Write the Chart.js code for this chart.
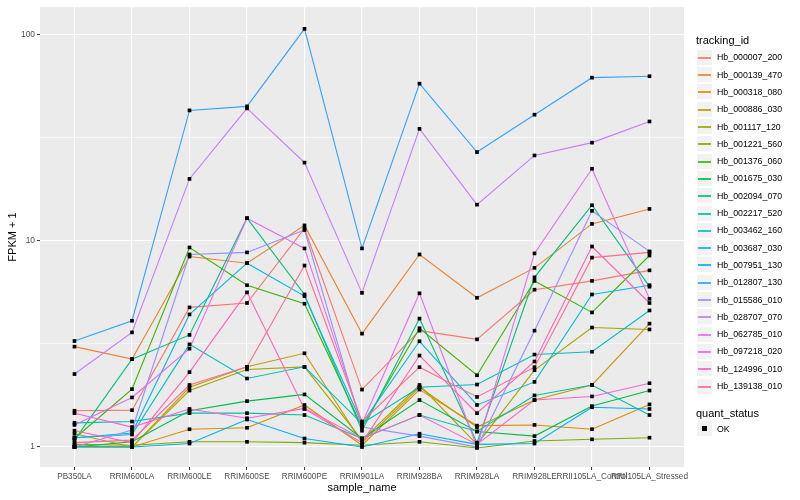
<!DOCTYPE html>
<html>
<head>
<meta charset="utf-8">
<script src="https://cdn.jsdelivr.net/npm/chart.js@4.4.0/dist/chart.umd.min.js"></script>
<style>
  body { margin: 0; background: #fff; font-family: "Liberation Sans", Arial, sans-serif; }
  #wrap { position: relative; width: 800px; height: 500px; }
  #grafico { position: absolute; left: 0; top: 0; }
  .ltitle { position: absolute; left: 696px; font-size: 11px; color: #000; line-height: 1; transform: translateY(-50%); white-space: nowrap; }
  .key { position: absolute; left: 696px; width: 17px; height: 17px; background: #F2F2F2; box-sizing: border-box; border: 1px solid #fff; }
  .key .ln { position: absolute; left: 1px; right: 1px; top: 7px; height: 2px; opacity: 0.85; }
  .key .pt { position: absolute; left: 5px; top: 5px; width: 5px; height: 5px; background: #000; }
  .lab { position: absolute; left: 717px; font-size: 8.8px; color: #000; line-height: 1; transform: translateY(-50%); white-space: nowrap; }
</style>
</head>
<body>
<div id="wrap">
  <canvas id="grafico" width="800" height="500"></canvas>
  <div id="legenda"></div>
</div>
<script>
const categories = ['PB350LA', 'RRIM600LA', 'RRIM600LE', 'RRIM600SE', 'RRIM600PE', 'RRIM901LA',
  'RRIM928BA', 'RRIM928LA', 'RRIM928LE', 'RRII105LA_Control', 'RRII105LA_Stressed'];

const trackingIds = ['Hb_000007_200', 'Hb_000139_470', 'Hb_000318_080', 'Hb_000886_030', 'Hb_001117_120',
  'Hb_001221_560', 'Hb_001376_060', 'Hb_001675_030', 'Hb_002094_070', 'Hb_002217_520',
  'Hb_003462_160', 'Hb_003687_030', 'Hb_007951_130', 'Hb_012807_130', 'Hb_015586_010',
  'Hb_028707_070', 'Hb_062785_010', 'Hb_097218_020', 'Hb_124996_010', 'Hb_139138_010'];

// FPKM + 1, one array per tracking_id, in category order
const hb_000007_200 = [1.50, 1.51, 4.76, 5.0, 11.5, 1.9, 3.67, 3.33, 5.8, 6.4, 7.2];
const hb_000139_470 = [3.07, 2.67, 8.4, 7.8, 11.9, 3.55, 8.6, 5.3, 7.4, 12.1, 14.3];
const hb_000318_080 = [1.16, 1.0, 1.22, 1.24, 1.6, 1.02, 1.9, 1.27, 1.28, 1.22, 1.61];
const hb_000886_030 = [1.0, 1.0, 1.95, 2.45, 2.85, 1.05, 1.95, 1.25, 1.69, 2.0, 3.97];
const hb_001117_120 = [1.01, 1.0, 1.88, 2.38, 2.45, 1.08, 2.0, 1.03, 2.36, 3.8, 3.72];
const hb_001221_560 = [1.03, 1.02, 1.06, 1.06, 1.05, 1.02, 1.06, 0.99, 1.07, 1.09, 1.11];
const hb_001376_060 = [1.1, 1.91, 9.3, 6.1, 4.96, 1.25, 3.77, 2.23, 6.4, 4.5, 8.5];
const hb_001675_030 = [1.0, 1.06, 1.5, 1.67, 1.8, 1.1, 1.69, 1.19, 1.13, 1.58, 1.88];
const hb_002094_070 = [1.08, 2.67, 3.5, 12.9, 5.5, 1.2, 4.2, 1.05, 6.66, 14.9, 6.0];
const hb_002217_520 = [1.31, 1.33, 1.46, 1.46, 1.43, 1.1, 1.43, 1.19, 1.78, 2.0, 1.43];
const hb_003462_160 = [1.11, 1.15, 3.15, 2.15, 2.45, 1.3, 1.95, 2.01, 2.81, 2.9, 4.6];
const hb_003687_030 = [1.11, 1.17, 4.4, 7.8, 5.4, 1.3, 3.26, 1.6, 2.07, 5.5, 6.1];
const hb_007951_130 = [1.0, 1.0, 1.04, 1.36, 1.1, 1.0, 1.16, 1.03, 1.04, 1.56, 1.53];
const hb_012807_130 = [3.27, 4.1, 43, 45, 107, 9.2, 58, 27, 41, 62, 63];
const hb_015586_010 = [1.0, 1.21, 8.6, 8.8, 11.3, 1.25, 1.13, 1.0, 3.67, 14.0, 8.9];
const hb_028707_070 = [2.26, 3.6, 20, 44, 24, 5.6, 35, 15, 26, 30, 38];
const hb_062785_010 = [1.28, 1.74, 3.0, 12.9, 9.2, 1.3, 5.57, 1.0, 8.7, 22.4, 5.24];
const hb_097218_020 = [1.46, 1.25, 1.53, 1.38, 1.54, 1.1, 1.43, 1.03, 1.69, 1.76, 2.04];
const hb_124996_010 = [1.2, 1.05, 2.31, 5.63, 1.53, 1.05, 2.78, 1.46, 2.6, 9.4, 5.0];
const hb_139138_010 = [1.05, 1.08, 2.0, 2.45, 7.6, 1.33, 2.44, 1.75, 2.44, 8.3, 8.8];

const seriesValues = [hb_000007_200, hb_000139_470, hb_000318_080, hb_000886_030, hb_001117_120,
  hb_001221_560, hb_001376_060, hb_001675_030, hb_002094_070, hb_002217_520,
  hb_003462_160, hb_003687_030, hb_007951_130, hb_012807_130, hb_015586_010,
  hb_028707_070, hb_062785_010, hb_097218_020, hb_124996_010, hb_139138_010];

const yMajor = [1, 10, 100];
const yMajorLabels = ['1', '10', '100'];
const yMinor = [3.1623, 31.623];

const quantStatus = ['OK'];

// ggplot hue palette, 20 levels
const CORES = ['#F8766D', '#EA8331', '#D89000', '#C09B00', '#A3A500', '#7CAE00', '#39B600', '#00BB4E',
  '#00BF7D', '#00C1A3', '#00BFC4', '#00BAE0', '#00B0F6', '#35A2FF', '#9590FF', '#C77CFF',
  '#E76BF3', '#FA62DB', '#FF62BC', '#FF6C91'];

const FONTE = '"Liberation Sans", Arial, sans-serif';
const isMajor = v => yMajor.some(m => Math.abs(m - v) < 1e-6);

const linhas = seriesValues.map((vals, i) => ({
  label: trackingIds[i],
  data: vals.map((v, j) => ({ x: j, y: v })),
  borderColor: CORES[i],
  borderWidth: 1.1,
  pointRadius: 0,
  fill: false,
  tension: 0,
  order: seriesValues.length - i + 1
}));

const pontos = seriesValues.map((vals, i) => ({
  label: trackingIds[i] + ' ' + quantStatus[0],
  data: vals.map((v, j) => ({ x: j, y: v })),
  showLine: false,
  pointStyle: 'rect',
  pointRadius: 2.6,
  pointBackgroundColor: '#000',
  pointBorderWidth: 0,
  order: 0
}));

const fundoPainel = {
  id: 'fundoPainel',
  beforeDraw(chart) {
    const { ctx, chartArea: a } = chart;
    ctx.save();
    ctx.fillStyle = '#EBEBEB';
    ctx.fillRect(a.left, a.top, a.right - a.left, a.bottom - a.top);
    ctx.restore();
  }
};

new Chart(document.getElementById('grafico'), {
  type: 'line',
  data: { datasets: [...linhas, ...pontos] },
  plugins: [fundoPainel],
  options: {
    responsive: false,
    animation: false,
    devicePixelRatio: 1,
    layout: { padding: { top: 5, right: 116, left: 0, bottom: 0 } },
    plugins: { legend: { display: false }, tooltip: { enabled: false } },
    scales: {
      x: {
        type: 'linear',
        min: -0.6,
        max: categories.length - 0.4,
        afterBuildTicks: s => { s.ticks = categories.map((_, i) => ({ value: i })); },
        afterFit: s => { s.height = 33; },
        ticks: {
          callback: v => categories[v],
          autoSkip: false, maxRotation: 0, minRotation: 0,
          color: '#4D4D4D', padding: 2,
          font: { family: FONTE, size: 8.2 }
        },
        grid: { color: '#FFFFFF', lineWidth: 1.1, tickColor: '#333333', tickLength: 3, tickWidth: 1 },
        border: { display: false },
        title: {
          display: true, text: 'sample_name', color: '#000',
          font: { family: FONTE, size: 11 }, padding: { top: 0, bottom: 5.4 }
        }
      },
      y: {
        type: 'logarithmic',
        min: 0.8,
        max: 136.5,
        afterBuildTicks: s => {
          s.ticks = [...yMajor, ...yMinor].sort((a, b) => a - b).map(v => ({ value: v }));
        },
        afterFit: s => { s.width = 40; },
        ticks: {
          callback: v => { const k = yMajor.findIndex(m => Math.abs(m - v) < 1e-6); return k >= 0 ? yMajorLabels[k] : ''; },
          autoSkip: false, color: '#4D4D4D', padding: 2,
          font: { family: FONTE, size: 8.4 }
        },
        grid: {
          color: '#FFFFFF',
          lineWidth: c => (c.tick && isMajor(c.tick.value)) ? 1.1 : 0.55,
          tickColor: c => (c.tick && isMajor(c.tick.value)) ? '#333333' : 'rgba(0,0,0,0)',
          tickLength: 3, tickWidth: 1
        },
        border: { display: false },
        title: {
          display: true, text: 'FPKM + 1', color: '#000',
          font: { family: FONTE, size: 11 }, padding: { top: 6.4, bottom: 0 }
        }
      }
    }
  }
});

// legenda estilo ggplot
const legenda = document.getElementById('legenda');
function addTitulo(texto, y) {
  const t = document.createElement('div');
  t.className = 'ltitle';
  t.style.top = y + 'px';
  t.textContent = texto;
  legenda.appendChild(t);
}
function addItem(texto, y, cor) {
  const k = document.createElement('div');
  k.className = 'key';
  k.style.top = Math.round(y - 8.5) + 'px';
  const m = document.createElement('div');
  if (cor) { m.className = 'ln'; m.style.background = cor; } else { m.className = 'pt'; }
  k.appendChild(m);
  legenda.appendChild(k);
  const l = document.createElement('div');
  l.className = 'lab';
  l.style.top = Math.round(y) + 'px';
  l.textContent = texto;
  legenda.appendChild(l);
}
addTitulo('tracking_id', 40);
trackingIds.forEach((id, i) => addItem(id, 57.3 + 17.3 * i, CORES[i]));
addTitulo('quant_status', 412.7);
quantStatus.forEach((s, i) => addItem(s, 428.5 + 17.3 * i, null));
</script>
</body>
</html>
